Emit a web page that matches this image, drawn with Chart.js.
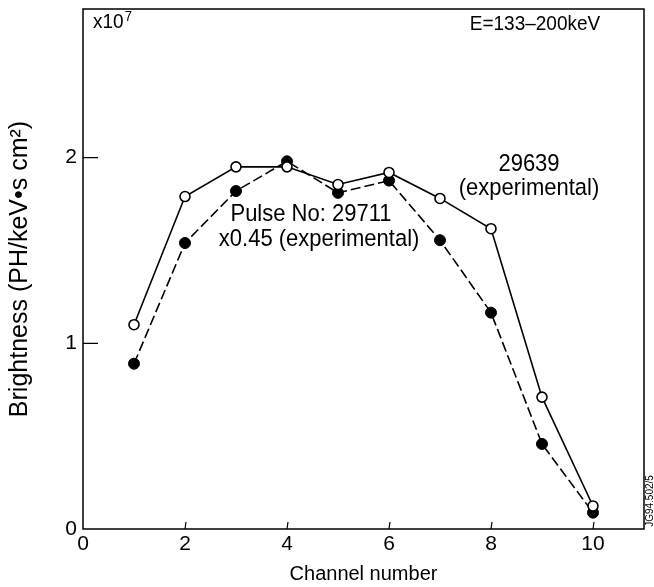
<!DOCTYPE html>
<html>
<head>
<meta charset="utf-8">
<script src="https://cdn.jsdelivr.net/npm/chart.js@4"></script>
<style>
  html, body { margin: 0; padding: 0; background: #fff; }
  #wrap { width: 654px; height: 587px; }
</style>
</head>
<body>
<div id="wrap"><canvas id="brightChart"></canvas></div>
<script>
// channel numbers
const channels = [1, 2, 3, 4, 5, 6, 7, 8, 9, 10];
// pulse 29639, open circles (units of 1e7)
const pulse29639 = [1.10, 1.79, 1.95, 1.95, 1.855, 1.92, 1.78, 1.617, 0.71, 0.124];
// pulse 29711 scaled by 0.45, filled circles
const pulse29711 = [0.89, 1.54, 1.82, 1.98, 1.81, 1.876, 1.555, 1.165, 0.458, 0.088];
// tick labels
const xTicks = [0, 2, 4, 6, 8, 10];
const yTicks = [0, 1, 2];

const FONT = '"Liberation Sans", Arial, sans-serif';

const toXY = (ys) => channels.map((c, i) => ({ x: c, y: ys[i] }));

// text a little taller than wide, like the printed lettering
function note(ctx, str, cx, cy, size, align) {
    ctx.save();
    ctx.font = size + 'px ' + FONT;
    ctx.textAlign = align || 'center';
    ctx.textBaseline = 'middle';
    ctx.translate(cx, cy);
    ctx.scale(1, 1.08);
    ctx.fillText(str, 0, 0);
    ctx.restore();
}

// frame, inward ticks and the text notes
const framePlugin = {
    id: 'frame',
    afterDraw(chart) {
        const { ctx, chartArea: a, scales: { x, y } } = chart;
        ctx.save();
        ctx.strokeStyle = '#000';
        ctx.fillStyle = '#000';
        ctx.lineWidth = 1.5;
        ctx.strokeRect(a.left, a.top, a.right - a.left, a.bottom - a.top);

        ctx.lineWidth = 1.2;
        ctx.beginPath();
        xTicks.slice(1).forEach(v => {
            const px = x.getPixelForValue(v);
            ctx.moveTo(px, a.bottom);
            ctx.lineTo(px + 1, a.bottom - 7);
        });
        yTicks.slice(1).forEach(v => {
            const py = y.getPixelForValue(v);
            ctx.moveTo(a.left, py);
            ctx.lineTo(a.left + 15, py);
        });
        ctx.stroke();

        // x10^7 multiplier
        note(ctx, 'x10', a.left + 10, a.top + 13, 19, 'left');
        ctx.font = '19px ' + FONT;
        const w = ctx.measureText('x10').width;
        note(ctx, '7', a.left + 10 + w + 1, a.top + 8, 13, 'left');

        note(ctx, 'E=133\u2013200keV', 535, a.top + 15, 19);

        note(ctx, '29639', x.getPixelForValue(8.745), y.getPixelForValue(1.962), 22);
        note(ctx, '(experimental)', x.getPixelForValue(8.745), y.getPixelForValue(1.833), 22);
        note(ctx, 'Pulse No: 29711', x.getPixelForValue(4.47), y.getPixelForValue(1.693), 22);
        note(ctx, 'x0.45 (experimental)', x.getPixelForValue(4.63), y.getPixelForValue(1.558), 22);

        ctx.font = '10px ' + FONT;
        ctx.textAlign = 'center';
        ctx.textBaseline = 'middle';
        ctx.translate(a.right + 6, a.bottom - 28);
        ctx.rotate(-Math.PI / 2);
        ctx.fillText('JG94.502/5', 0, 0);
        ctx.restore();
    }
};

new Chart(document.getElementById('brightChart'), {
    type: 'line',
    data: {
        datasets: [
            {
                label: '29639 (experimental)',
                data: toXY(pulse29639),
                borderColor: '#000',
                borderWidth: 1.6,
                pointRadius: 5,
                pointBorderWidth: 1.6,
                pointBackgroundColor: '#fff',
                pointBorderColor: '#000',
                tension: 0
            },
            {
                label: 'Pulse No: 29711 x0.45 (experimental)',
                data: toXY(pulse29711),
                borderColor: '#000',
                borderWidth: 1.6,
                borderDash: [10, 4],
                pointRadius: 5.5,
                pointBorderWidth: 1,
                pointBackgroundColor: '#000',
                pointBorderColor: '#000',
                tension: 0
            }
        ]
    },
    options: {
        responsive: true,
        maintainAspectRatio: false,
        animation: false,
        layout: { padding: { top: 9, right: 10, left: 0, bottom: 0 } },
        plugins: {
            legend: { display: false },
            tooltip: { enabled: false }
        },
        scales: {
            x: {
                type: 'linear',
                min: 0,
                max: 11,
                afterFit: s => { s.height = 58; s.paddingLeft = 0; s.paddingRight = 0; },
                afterBuildTicks: s => { s.ticks = xTicks.map(v => ({ value: v })); },
                grid: { display: false, drawTicks: false },
                border: { display: false },
                ticks: { color: '#000', padding: 3, maxRotation: 0, font: { family: FONT, size: 21 } },
                title: {
                    display: true,
                    text: 'Channel number',
                    color: '#000',
                    padding: { top: 0, bottom: 1 },
                    font: { family: FONT, size: 20 }
                }
            },
            y: {
                min: 0,
                max: 2.8,
                afterFit: s => { s.width = 83; s.paddingTop = 0; s.paddingBottom = 0; },
                afterBuildTicks: s => { s.ticks = yTicks.map(v => ({ value: v })); },
                grid: { display: false, drawTicks: false },
                border: { display: false },
                ticks: { color: '#000', padding: 6, font: { family: FONT, size: 21 } },
                title: {
                    display: true,
                    text: 'Brightness (PH/keV\u2022s cm\u00b2)',
                    color: '#000',
                    padding: { top: 5, bottom: 0 },
                    font: { family: FONT, size: 25 }
                }
            }
        }
    },
    plugins: [framePlugin]
});
</script>
</body>
</html>
